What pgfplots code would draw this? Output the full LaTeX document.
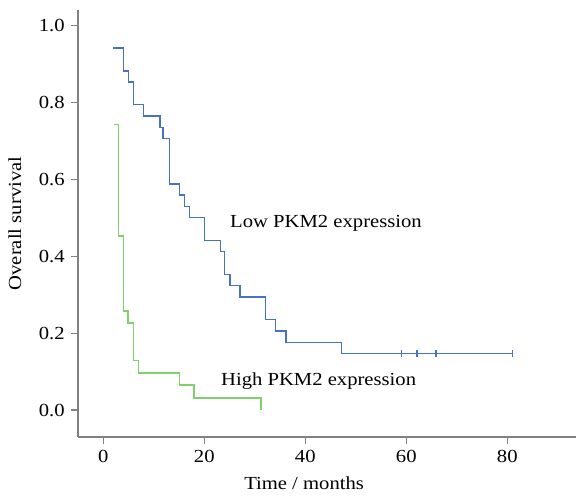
\documentclass[border=0pt]{standalone}
\usepackage{fontspec}
\setmainfont[FakeStretch=1.12]{Liberation Serif}
\usepackage{pgfplots}
\pgfplotsset{compat=1.18}
\definecolor{lowblue}{RGB}{72,114,196}
\definecolor{highgreen}{RGB}{128,208,110}
\definecolor{axgray}{RGB}{128,128,128}
\begin{document}
\fontsize{18.5}{22}\selectfont
\begin{tikzpicture}
\begin{axis}[
    scale only axis,
    width=498bp, height=427bp,
    xmin=-5, xmax=93.6,
    ymin=-0.07, ymax=1.04,
    axis x line*=bottom, axis y line*=left,
    axis line style={axgray, line width=1.7pt, -},
    xtick={0,20,40,60,80},
    ytick={0,0.2,0.4,0.6,0.8,1.0},
    yticklabel style={/pgf/number format/.cd, fixed, fixed zerofill, precision=1},
    /pgf/number format/assume math mode=true,
    tick align=outside,
    major tick length=7bp,
    tick style={axgray, line width=1.2pt},
    xlabel={Time / months},
    ylabel={Overall survival},
    xlabel style={at={(ticklabel cs:0.454)}, anchor=near ticklabel, yshift=-1bp},
    ylabel style={yshift=5bp},
    every tick label/.append style={font=\fontsize{18.5}{22}\selectfont},
    label style={font=\fontsize{18.5}{22}\selectfont},
]
% Low PKM2 expression
\addplot[const plot, lowblue, line width=1.5pt] coordinates {
    (2,0.941) (4,0.882) (5,0.853) (6,0.794) (8,0.765) (11.2,0.735)
    (11.8,0.706) (13.1,0.588) (15.1,0.559) (16.1,0.529) (17.1,0.500)
    (20,0.441) (23.2,0.412) (24,0.353) (25.1,0.324) (27.1,0.294)
    (32.1,0.235) (34.1,0.206) (36.2,0.176) (47.2,0.147) (81,0.147)
};
% censored
\addplot[only marks, mark=|, mark size=3.5bp, lowblue, mark options={line width=1.4pt}] coordinates {
    (59.1,0.147) (62.1,0.147) (65.9,0.147) (81,0.147)
};
% High PKM2 expression
\addplot[const plot, highgreen, line width=1.5pt] coordinates {
    (2.2,0.742) (3,0.452) (4,0.258) (4.9,0.226) (6,0.129) (7,0.097)
    (15.1,0.065) (18,0.032) (31.2,0)
};
\node[anchor=base west, inner sep=0pt] at (axis cs:25.1,0.475) {Low PKM2 expression};
\node[anchor=base west, inner sep=0pt] at (axis cs:23.3,0.064) {High PKM2 expression};
\end{axis}
\pgfresetboundingbox
\path ([xshift=-78bp,yshift=-60bp]current axis.south west) rectangle ([yshift=10bp]current axis.north east);
\end{tikzpicture}
\end{document}
